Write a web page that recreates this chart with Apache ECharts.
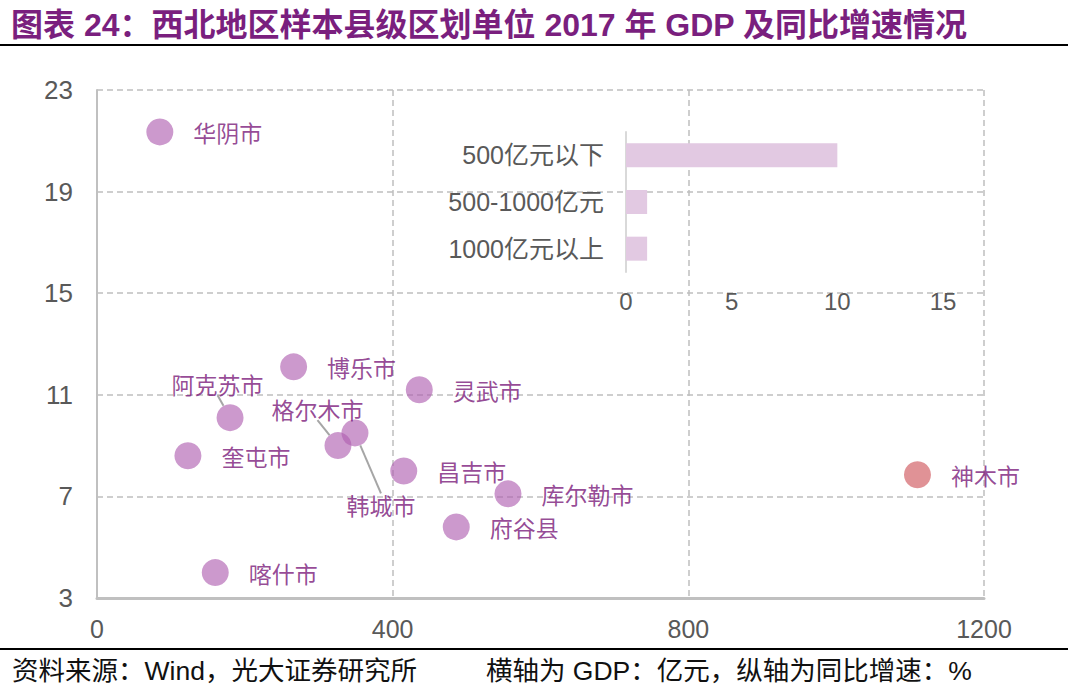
<!DOCTYPE html>
<html><head><meta charset="utf-8">
<script src="https://cdn.jsdelivr.net/npm/echarts@6/dist/echarts.min.js"></script>
<style>html,body{margin:0;padding:0;background:#fff}#c{width:1080px;height:697px}</style>
</head><body><div id="c"></div>
<script>
// ---- data ----
const cityNames = ['华阴市','博乐市','灵武市','阿克苏市','格尔木市','韩城市','奎屯市','昌吉市','库尔勒市','府谷县','喀什市','神木市'];
const gdpValues = [85, 266, 436, 180, 326, 349, 123, 415, 556, 486, 160, 1110];
const growthValues = [21.35, 12.1, 11.2, 10.1, 9.0, 9.5, 8.6, 8.0, 7.1, 5.8, 4.0, 7.85];
const xTicks = [0, 400, 800, 1200];
const yTicks = [3, 7, 11, 15, 19, 23];
const insetCategories = ['500亿元以下', '500-1000亿元', '1000亿元以上'];
const insetCounts = [10, 1, 1];
const insetTicks = [0, 5, 10, 15];

// ---- styling (not data) ----
const moved = { '阿克苏市': [-92, -34], '格尔木市': [-100, -37], '韩城市': [-42, 72] };
const purple = 'rgba(175,96,176,0.8)';
const red = 'rgba(207,85,91,0.8)';
const latinCjk = 'Liberation Sans, Arial, Noto Sans CJK SC';

const scatterData = cityNames.map((n, i) => ({
  name: n,
  value: [gdpValues[i], growthValues[i]],
  itemStyle: { color: n === '神木市' ? red : purple },
  labelLine: { show: !!moved[n] }
}));

const chart = echarts.init(document.getElementById('c'), null, { renderer: 'svg' });
const axisGrey = '#595959';
chart.setOption({
  animation: false,
  title: [{
    text: '图表 24：西北地区样本县级区划单位 2017 年 GDP 及同比增速情况',
    left: 6, top: 4,
    textStyle: { color: '#7a1f7e', fontSize: 32, fontWeight: 'bold', fontFamily: latinCjk }
  }, {
    text: '资料来源：Wind，光大证券研究所',
    left: 7, top: 653,
    textStyle: { color: '#111', fontSize: 26.5, fontWeight: 'normal', fontFamily: latinCjk }
  }, {
    text: '横轴为 GDP：亿元，纵轴为同比增速：%',
    left: 481, top: 653,
    textStyle: { color: '#111', fontSize: 26.5, fontWeight: 'normal', fontFamily: latinCjk }
  }],
  graphic: [
    { type: 'line', shape: { x1: 0, y1: 45, x2: 1068, y2: 45 }, style: { stroke: '#000', lineWidth: 2 } },
    { type: 'line', shape: { x1: 0, y1: 649, x2: 1068, y2: 649 }, style: { stroke: '#000', lineWidth: 2 } }
  ],
  grid: [
    { left: 97, right: 96, top: 90, bottom: 99 },
    { left: 626, right: 137, top: 132, bottom: 425 }
  ],
  xAxis: [{
    gridIndex: 0, type: 'value', min: xTicks[0], max: xTicks[xTicks.length - 1], interval: 400,
    axisLine: { show: true, lineStyle: { color: '#c0c0c0', width: 3 } },
    axisTick: { show: false },
    axisLabel: { color: axisGrey, fontSize: 25, margin: 18, fontFamily: 'Liberation Sans', formatter: v => String(v) },
    splitLine: { show: true, lineStyle: { color: '#bfbfbf', type: [6, 4], width: 1.5 } }
  }, {
    gridIndex: 1, type: 'value', min: insetTicks[0], max: insetTicks[insetTicks.length - 1], interval: 5,
    axisLine: { show: false }, axisTick: { show: false },
    axisLabel: { color: axisGrey, fontSize: 24, margin: 17, fontFamily: 'Liberation Sans' },
    splitLine: { show: false }
  }],
  yAxis: [{
    gridIndex: 0, type: 'value', min: yTicks[0], max: yTicks[yTicks.length - 1], interval: 4,
    axisLine: { show: true, lineStyle: { color: '#c0c0c0', width: 2 } },
    axisTick: { show: false },
    axisLabel: { color: axisGrey, fontSize: 26, margin: 24, fontFamily: 'Liberation Sans' },
    splitLine: { show: true, lineStyle: { color: '#bfbfbf', type: [6, 4], width: 1.5 } }
  }, {
    gridIndex: 1, type: 'category', data: insetCategories, inverse: true,
    axisLine: { show: true, lineStyle: { color: '#d9d9d9', width: 2 } },
    axisTick: { show: false },
    axisLabel: { color: axisGrey, fontSize: 25, margin: 22, fontFamily: latinCjk }
  }],
  series: [{
    type: 'scatter', xAxisIndex: 0, yAxisIndex: 0,
    symbolSize: 27,
    data: scatterData,
    label: {
      show: true, position: 'right', distance: 20,
      formatter: p => p.name,
      color: '#7a1a7a', fontSize: 23, fontFamily: 'Noto Sans CJK SC'
    },
    labelLine: { show: false, lineStyle: { color: '#a6a6a6', width: 2 } },
    labelLayout: p => {
      const m = moved[cityNames[p.dataIndex]];
      return m ? { dx: m[0], dy: m[1] } : {};
    },
    z: 3
  }, {
    type: 'bar', xAxisIndex: 1, yAxisIndex: 1,
    data: insetCounts, barWidth: 24,
    itemStyle: { color: '#e2c9e2' },
    z: 2
  }]
});
</script></body></html>
